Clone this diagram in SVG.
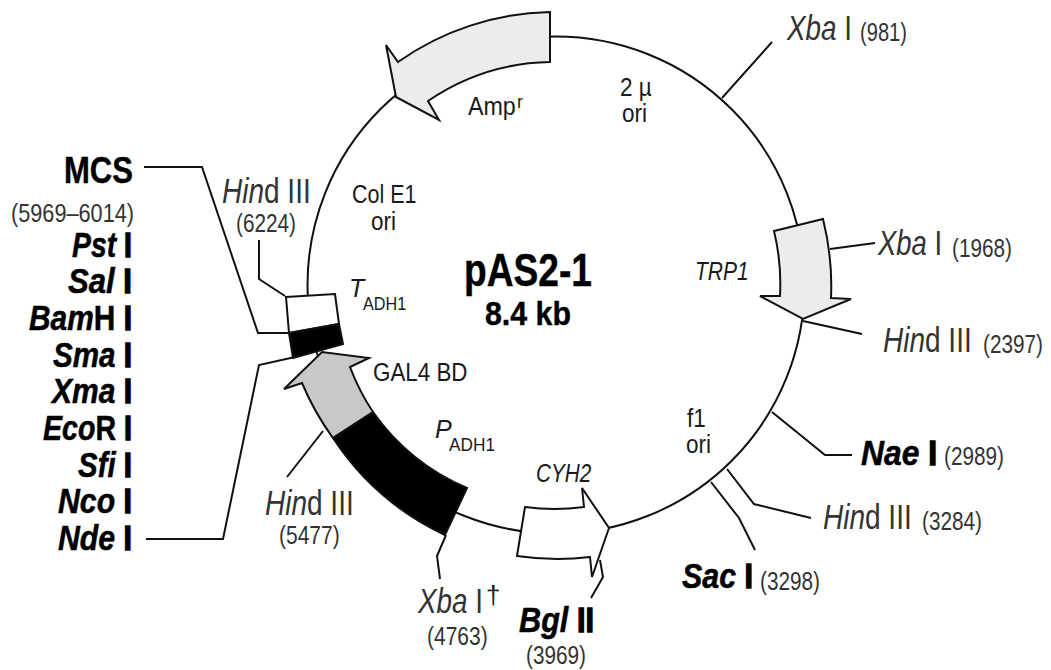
<svg xmlns="http://www.w3.org/2000/svg" width="1051" height="670" viewBox="0 0 1051 670">
<style>
text{font-family:"Liberation Sans",Arial,sans-serif;fill:#1a1a1a}
.l{fill:none;stroke:#111;stroke-width:2}
.s{stroke:#111;stroke-width:2;stroke-linejoin:miter}
.g{fill:#ececec}.w{fill:#fff}.k{fill:#000}.m{fill:#c8c8c8}
.b{font-weight:700;fill:#000;stroke:#000;stroke-width:.4px}
.e{font-size:35px;font-weight:700;fill:#000;stroke:#000;stroke-width:.5px}
.x{stroke-width:1.4px}
.n{font-size:25px}
.h{font-size:35px;fill:#333}
.p{font-size:25px;fill:#333}
.i{font-style:italic}
.u{font-size:18px}
</style>
<rect width="1051" height="670" fill="#fff"/>
<g id="backbone"><circle class="l" cx="556" cy="285" r="248.5"/></g>
<g id="connectors">
<path class="l" d="M144,167H202L258,333H289"/>
<path class="l" d="M146,539H223L259,365L295,357"/>
<path class="l" d="M259,240V279L285,296"/>
<path class="l" d="M323,431L287,477"/>
<path class="l" d="M446,535L437,556L440,579"/>
<path class="l" d="M600,560L603,577L591,598"/>
<path class="l" d="M711,482L739,518L755,550"/>
<path class="l" d="M727,469L754,504L811,518"/>
<path class="l" d="M772,412L825,455H852"/>
<path class="l" d="M803,321L862,334"/>
<path class="l" d="M830,249L875,243"/>
<path class="l" d="M722,98L772,42"/>
</g>
<g id="amp"><path class="g s" d="M550,12A273,273 0 0 0 398,62L386,45L396,97L439,120L428,101A223,223 0 0 1 550,62Z"/>
<text class="n" transform="translate(468,115) scale(.93,1)">Amp</text><text x="517" y="108" font-size="18">r</text></g>
<g id="trp1"><path class="g s" d="M774,231L823,219A275,275 0 0 1 831,298L851,299L803,319L760,296L780,296A224,224 0 0 0 774,231Z"/>
<text class="n i" transform="translate(695,280) scale(.84,1)">TRP1</text></g>
<g id="cyh2"><path class="w s" d="M525,507A224,224 0 0 0 584,507L582,488L609,528L592,577L590,557A274,274 0 0 1 517,556Z"/>
<text class="n i" transform="translate(536,482) scale(.83,1)">CYH2</text></g>
<g id="gal4"><path class="m s" d="M333,438A272,272 0 0 1 302,383L284,389L322,352L369,358L350,367A222,222 0 0 0 373,412Z"/>
<text class="n" transform="translate(373,381) scale(.895,1)">GAL4 BD</text></g>
<g id="padh1"><path class="k s" d="M373,412A222,222 0 0 0 467,488L445,535A273,273 0 0 1 333,438Z"/>
<text class="n i" x="435" y="438">P</text><text class="u" transform="translate(449,451) scale(.96,1)">ADH1</text></g>
<g id="tadh1"><path class="w s" d="M286,297L335,294L339,324L289,333Z"/><path class="k s" d="M289,333L339,324L343,344L293,358Z"/>
<text class="n i" x="349" y="297">T</text><text class="u" transform="translate(363,310) scale(.9,1)">ADH1</text></g>
<g id="mcs">
<text class="b" font-size="36" transform="translate(64,183) scale(.8625,1)">MCS</text>
<text class="p" transform="translate(11,222) scale(.868,1)">(5969–6014)</text>
<text class="e" transform="translate(72,257) scale(.81,1)"><tspan class="i">Pst</tspan> <tspan class="x">I</tspan></text>
<text class="e" transform="translate(68,293) scale(.889,1)"><tspan class="i">Sal</tspan> <tspan class="x">I</tspan></text>
<text class="e" transform="translate(29,330) scale(.854,1)"><tspan class="i">Bam</tspan>H <tspan class="x">I</tspan></text>
<text class="e" transform="translate(53,367) scale(.846,1)"><tspan class="i">Sma</tspan> <tspan class="x">I</tspan></text>
<text class="e" transform="translate(52,403) scale(.857,1)"><tspan class="i">Xma</tspan> <tspan class="x">I</tspan></text>
<text class="e" transform="translate(43,440) scale(.817,1)"><tspan class="i">Eco</tspan>R <tspan class="x">I</tspan></text>
<text class="e" transform="translate(78,477) scale(.841,1)"><tspan class="i">Sfi</tspan> <tspan class="x">I</tspan></text>
<text class="e" transform="translate(58,513) scale(.865,1)"><tspan class="i">Nco</tspan> <tspan class="x">I</tspan></text>
<text class="e" transform="translate(58,550) scale(.865,1)"><tspan class="i">Nde</tspan> <tspan class="x">I</tspan></text>
</g>
<g id="title">
<text class="b" font-size="46" transform="translate(464,286) scale(.808,1)">pAS2-1</text>
<text class="b" font-size="33" transform="translate(485,325) scale(.92,1)">8.4 kb</text>
</g>
<g id="ori-col"><text class="n" transform="translate(352,203) scale(.86,1)">Col E1</text><text class="n" transform="translate(371,230) scale(.9,1)">ori</text></g>
<g id="ori-2mu"><text class="n" transform="translate(620,96) scale(.9,1)">2 µ</text><text class="n" transform="translate(622,122) scale(.9,1)">ori</text></g>
<g id="ori-f1"><text class="n" transform="translate(687,427) scale(.9,1)">f1</text><text class="n" transform="translate(686,453) scale(.9,1)">ori</text></g>
<g id="hind6224"><text class="h" transform="translate(222,203) scale(.8,1)"><tspan class="i">Hin</tspan>d III</text><text class="p" transform="translate(236,232) scale(.83,1)">(6224)</text></g>
<g id="hind5477"><text class="h" transform="translate(265,515) scale(.8,1)"><tspan class="i">Hin</tspan>d III</text><text class="p" transform="translate(279,544) scale(.84,1)">(5477)</text></g>
<g id="xba4763"><text class="h" transform="translate(418,613) scale(.795,1)"><tspan class="i">Xba</tspan> I</text><text x="486" y="604" font-size="26" fill="#333">†</text><text class="p" transform="translate(427,645) scale(.84,1)">(4763)</text></g>
<g id="bgl3969"><text class="e" transform="translate(519,632) scale(.876,1)"><tspan class="i">Bgl</tspan> <tspan class="x">II</tspan></text><text class="p" transform="translate(526,664) scale(.83,1)">(3969)</text></g>
<g id="sac3298"><text class="e" transform="translate(682,588) scale(.869,1)"><tspan class="i">Sac</tspan> <tspan class="x">I</tspan></text><text class="p" transform="translate(760,590) scale(.83,1)">(3298)</text></g>
<g id="hind3284"><text class="h" transform="translate(823,529) scale(.8,1)"><tspan class="i">Hin</tspan>d III</text><text class="p" transform="translate(922,530) scale(.83,1)">(3284)</text></g>
<g id="nae2989"><text class="e" transform="translate(861,465) scale(.909,1)"><tspan class="i">Nae</tspan> <tspan class="x">I</tspan></text><text class="p" transform="translate(944,465) scale(.83,1)">(2989)</text></g>
<g id="hind2397"><text class="h" transform="translate(883,352) scale(.8,1)"><tspan class="i">Hin</tspan>d III</text><text class="p" transform="translate(983,353) scale(.83,1)">(2397)</text></g>
<g id="xba1968"><text class="h" transform="translate(878,255) scale(.785,1)"><tspan class="i">Xba</tspan> I</text><text class="p" transform="translate(952,257) scale(.83,1)">(1968)</text></g>
<g id="xba981"><text class="h" transform="translate(787,40) scale(.795,1)"><tspan class="i">Xba</tspan> I</text><text class="p" transform="translate(860,41) scale(.805,1)">(981)</text></g>
</svg>
